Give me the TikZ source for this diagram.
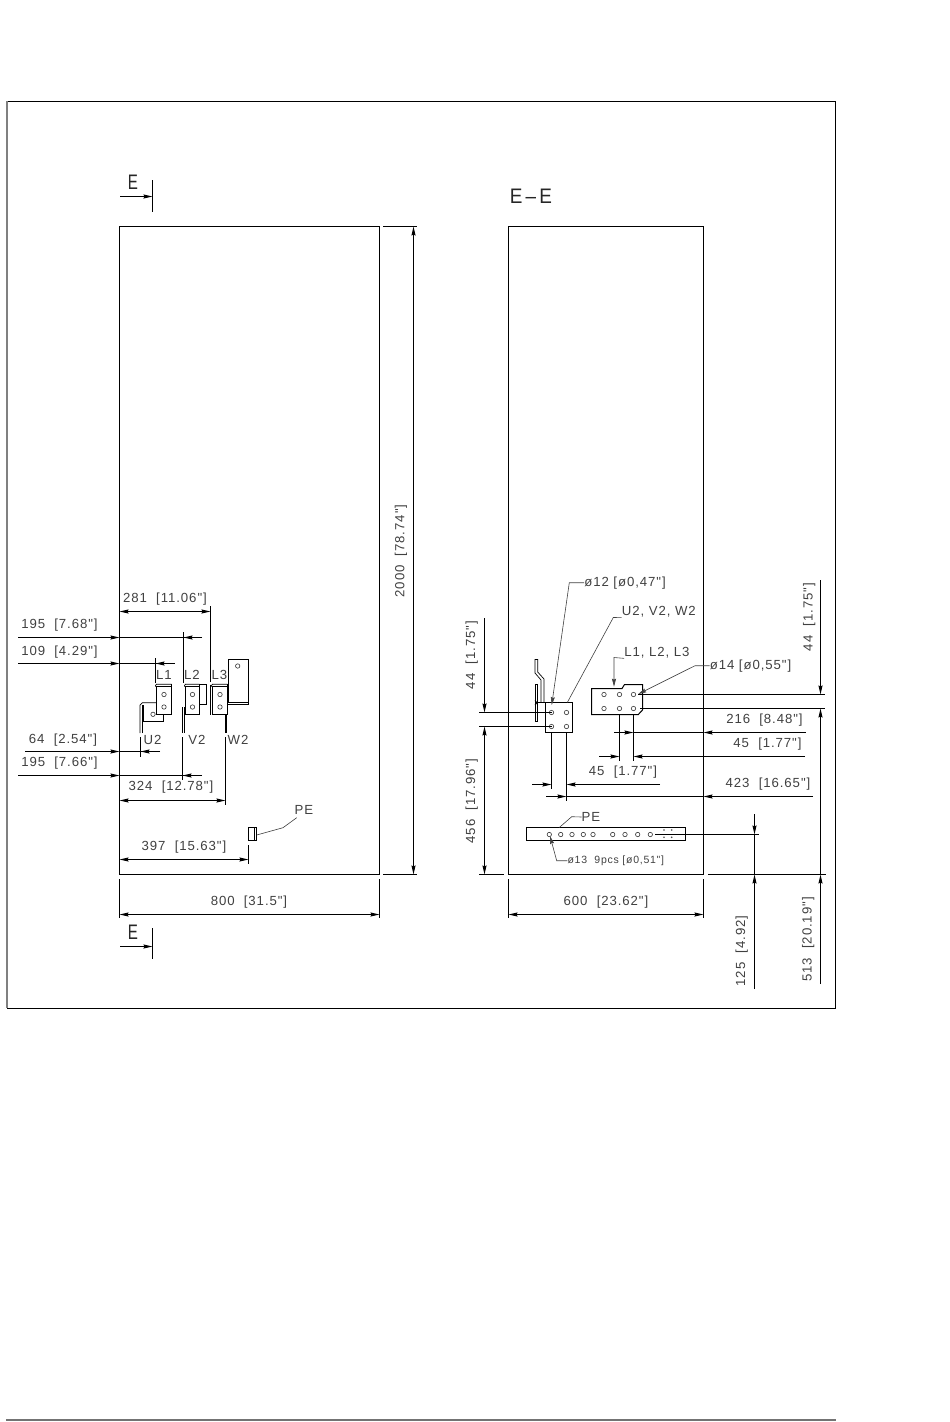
\documentclass[tikz,border=0pt]{standalone}
\usepackage{fontspec}
\setmainfont{Liberation Sans}
\newfontfamily\cadfont[LetterSpace=7]{Liberation Sans}
\usetikzlibrary{arrows.meta}
\tikzset{
  part/.style={line width=1pt},
  thinpart/.style={line width=.7pt},
  dimline/.style={line width=1pt},
  leader/.style={line width=.6pt,black!75},
  tipin/.style={-{Stealth[length=9pt,width=4pt,inset=1pt]}},
  tipboth/.style={{Stealth[length=9pt,width=4pt,inset=1pt]}-{Stealth[length=9pt,width=4pt,inset=1pt]}},
  tipsmall/.style={-{Stealth[length=8pt,width=4pt,inset=1pt]}},
  dimtext/.style={inner sep=0pt,text=black!75,font=\fontsize{13.2}{15}\cadfont},
  smalltext/.style={inner sep=0pt,text=black!75,font=\fontsize{10.5}{12}\cadfont},
  bigtext/.style={inner sep=0pt,text=black!85,xscale=.72,transform shape,font=\fontsize{21}{24}\selectfont},
  hole/.style={line width=.6pt,black!80}
}
\begin{document}
\begin{tikzpicture}[x=1pt,y=-1pt]
\useasboundingbox (0,0) rectangle (950,1422);

\draw[line width=1pt] (7,101.5) rectangle (835.5,1008.5);
\draw[line width=2pt,black!50] (7,101)--(7,1008);
\draw[line width=2pt,black!55] (6,1419.5)--(836,1419.5);

\draw[part] (119.5,226.5) rectangle (379.5,874.5);
\draw[part] (508.5,226.5) rectangle (703.5,874.5);

% section marks
\node[bigtext] (sectop) at (133,182) {E};
\node[bigtext] (secbot) at (133,932.5) {E};
\node[bigtext,xscale=1.25] (sectitle) at (531,196) {E\,--\,E};
\draw[dimline] (152.5,180)--(152.5,212);
\draw[dimline] (152.5,928)--(152.5,959);
\draw[dimline,tipin] (120,196.5)--(152.5,196.5);
\draw[dimline,tipin] (120,946.5)--(152.5,946.5);

% left view, dimensions
\draw[dimline] (210.5,606)--(210.5,682);
\draw[dimline] (183.5,632)--(183.5,683);
\draw[dimline] (155.5,658)--(155.5,683);
\draw[dimline] (140.5,737)--(140.5,757);
\draw[dimline] (182.5,737)--(182.5,780);
\draw[dimline] (225.5,737)--(225.5,805);
\draw[dimline] (248.5,845)--(248.5,864);
\draw[dimline] (119.5,879)--(119.5,918);
\draw[dimline] (379.5,879)--(379.5,918);
\draw[dimline] (383,226.5)--(417,226.5);
\draw[dimline] (383,874.5)--(417,874.5);

\draw[dimline,tipboth] (119.5,611.5)--(210.5,611.5);
\draw[dimline,tipboth] (119.5,800.5)--(225.5,800.5);
\draw[dimline,tipboth] (119.5,859.5)--(248.5,859.5);
\draw[dimline,tipboth] (119.5,914.5)--(379.5,914.5);
\draw[dimline,tipboth] (413.5,226.5)--(413.5,874.5);

\foreach \yy/\xa/\xb/\xc in {637.5/18/183.5/202,663.5/18/155.5/174.5,751.5/25/140.5/160,775.5/18/182.5/202}{
  \draw[dimline,tipin] (\xa,\yy)--(119.5,\yy);
  \draw[dimline] (119.5,\yy)--(\xc,\yy);
  \draw[dimline,tipin] (\xc,\yy)--(\xb,\yy);
}

\node[dimtext] (dima) at (165,599) {281\ \ [11.06"]};
\node[dimtext] (dimb) at (59.5,625) {195\ \ [7.68"]};
\node[dimtext] (dimc) at (59.5,652) {109\ \ [4.29"]};
\node[dimtext] (dimd) at (63,740) {64\ \ [2.54"]};
\node[dimtext] (dime) at (59.5,763) {195\ \ [7.66"]};
\node[dimtext] (dimf) at (171,787) {324\ \ [12.78"]};
\node[dimtext] (dimg) at (184,847) {397\ \ [15.63"]};
\node[dimtext] (dimh) at (249,902) {800\ \ [31.5"]};
\node[dimtext,rotate=90] (dimi) at (401,551) {2000\ \ [78.74"]};

\node[dimtext] (lone) at (164,675) {L1};
\node[dimtext] (ltwo) at (192,675) {L2};
\node[dimtext] (lthree) at (219.5,675) {L3};
\node[dimtext] (utwo) at (152.5,740) {U2};
\node[dimtext] (vtwo) at (197,740) {V2};
\node[dimtext] (wtwo) at (238,740) {W2};
\node[dimtext] (peleft) at (304,810) {PE};

% left view, terminals
\foreach \xa/\xb in {156.5/171.5,185.5/199.5,212.5/227.5}{
  \draw[part] (\xa,686.5) rectangle (\xb,714.5);
  \draw[thinpart] (\xa-1,686.5)--(\xa-1,685.5)--(\xa,684.2)--(\xb,684.2);
  \draw[thinpart] (\xb,684.2)--(\xb,686.5);
  \draw[hole] ({(\xa+\xb)/2},694.5) circle (2.2);
  \draw[hole] ({(\xa+\xb)/2},707) circle (2.2);
}
\draw[thinpart] (140,733)--(140,705)--(142.5,702.7)--(156.5,702.7);
\draw[thinpart] (142.7,733)--(142.7,705);
\draw[part] (143.5,705)--(143.5,721.5)--(163.5,721.5)--(163.5,714.5);
\draw[hole] (153,714.3) circle (2.2);
\draw[part] (199.5,684.5)--(206.5,684.5)--(206.5,704.5)--(199.5,704.5);
\draw[thinpart] (182.3,707)--(182.3,733);
\draw[thinpart] (184.3,707)--(184.3,733);
\draw[thinpart] (210.7,684.5)--(210.7,714.5);
\draw[line width=1.6pt] (226,714.5)--(226,733);
\draw[part] (228.5,702.5)--(228.5,659.5)--(248,659.5)--(248,704.5)--(227.3,704.5);
\draw[thinpart] (228.5,702.5)--(248,702.5);
\draw[hole] (237.7,666) circle (2.2);
\draw[part] (248.5,827.5) rectangle (256.5,840.5);
\draw[thinpart] (254.5,827.5)--(254.5,840.5);
\draw[leader] (256.7,835)--(283,827.7)--(296.7,817.7);

% right view, parts
\draw[part] (545.5,702.5) rectangle (572.5,732.5);
\foreach \xx in {551.5,566.5}
  \foreach \yy in {712.5,726.5}
    \draw[hole] (\xx,\yy) circle (2.2);
\draw[part] (591.5,688.5)--(622,688.5)--(624.5,684.5)--(642.5,684.5)--(642.5,710)--(638.3,714.5)--(591.5,714.5)--cycle;
\foreach \xx in {604,619.5,633.5}
  \foreach \yy in {694.5,708.5}
    \draw[hole] (\xx,\yy) circle (2.2);
\draw[thinpart] (535,673)--(535,659.5)--(537.7,659.5)--(537.7,672)--(544,679)--(544,702.5);
\draw[thinpart] (535,673)--(541,680)--(541,702.5);
\draw[thinpart] (535,684) rectangle (537.7,721.7);
\draw[thinpart] (535,705)--(537.7,700.5) (535,700.5)--(537.7,705);
\draw[thinpart] (537.7,702.5)--(545.5,702.5);
\draw[part] (526.5,827.5) rectangle (685.5,840.5);
\foreach \xx in {549.3,560.7,572,583.3,593,612.7,625,637.7,650.3}
  \draw[hole] (\xx,834.5) circle (2.2);
\foreach \xx in {664,671.7}
  \foreach \yy in {830,837.3}
    \fill[black!70] (\xx,\yy) circle (.9);

% right view, dimensions
\draw[dimline] (479,712.5)--(551.5,712.5);
\draw[dimline] (479,726.5)--(551.5,726.5);
\draw[dimline] (638.3,694.5)--(825,694.5);
\draw[dimline] (640,708.5)--(825,708.5);
\draw[dimline] (655,834.5)--(759,834.5);
\draw[dimline] (479,874.5)--(504,874.5);
\draw[dimline] (708,874.5)--(825.7,874.5);
\draw[dimline] (551.5,732.5)--(551.5,789);
\draw[dimline] (566.5,732.5)--(566.5,800.7);
\draw[dimline] (619.5,714.5)--(619.5,760.7);
\draw[dimline] (633.5,714.5)--(633.5,760.7);
\draw[dimline] (508.5,879)--(508.5,918);
\draw[dimline] (703.5,879)--(703.5,918);

\draw[dimline,tipboth] (508.5,914.5)--(703.5,914.5);

\draw[dimline,tipin] (484.5,618)--(484.5,712.5);
\draw[dimline,tipboth] (484.5,726.5)--(484.5,874.5);
\draw[dimline,tipin] (820.5,580)--(820.5,694.5);
\draw[dimline,tipin] (820.5,874.5)--(820.5,708.5);
\draw[dimline,tipin] (820.5,984)--(820.5,874.5);
\draw[dimline,tipin] (754.5,814)--(754.5,834.5);
\draw[dimline] (754.5,834.5)--(754.5,874.5);
\draw[dimline,tipin] (754.5,989)--(754.5,874.5);

\draw[dimline,tipin] (532.3,784.5)--(551.5,784.5);
\draw[dimline,tipin] (660,784.5)--(566.5,784.5);
\draw[dimline,tipin] (546,796.5)--(566.5,796.5);
\draw[dimline,tipin] (813,796.5)--(703.5,796.5);
\draw[dimline] (703.5,796.5)--(566.5,796.5);
\draw[dimline,tipin] (614,732.5)--(633.5,732.5);
\draw[dimline,tipin] (805.7,732.5)--(703.5,732.5);
\draw[dimline] (703.5,732.5)--(633.5,732.5);
\draw[dimline,tipin] (599.3,756.5)--(619.5,756.5);
\draw[dimline,tipin] (805,756.5)--(633.5,756.5);

\node[dimtext] (dimj) at (764.5,720) {216\ \ [8.48"]};
\node[dimtext] (dimk) at (767.5,744) {45\ \ [1.77"]};
\node[dimtext] (diml) at (768,784) {423\ \ [16.65"]};
\node[dimtext] (dimm) at (623,771.7) {45\ \ [1.77"]};
\node[dimtext] (dimn) at (606,901.7) {600\ \ [23.62"]};
\node[dimtext,rotate=90] (dimo) at (471.7,655) {44\ \ [1.75"]};
\node[dimtext,rotate=90] (dimp) at (471.7,801) {456\ \ [17.96"]};
\node[dimtext,rotate=90] (dimq) at (809.3,617) {44\ \ [1.75"]};
\node[dimtext,rotate=90] (dimr) at (741.7,951) {125\ \ [4.92]};
\node[dimtext,rotate=90] (dims) at (808.3,939.5) {513\ \ [20.19"]};

% right view, leaders
\node[dimtext] (holea) at (625,582.7) {ø12\ [ø0,47"]};
\node[dimtext] (uvw) at (658.8,611.7) {U2,\ V2,\ W2};
\node[dimtext] (lll) at (657,652.7) {L1,\ L2,\ L3};
\node[dimtext] (holeb) at (750.5,665.7) {ø14\ [ø0,55"]};
\node[dimtext] (peright) at (591,817) {PE};
\node[smalltext] (holec) at (615.8,860.7) {ø13\ \ 9pcs\ [ø0,51"]};

\draw[leader,tipsmall] (holea.west)--(569.3,582.7)--(551.7,705);
\draw[leader] (uvw.south west)--(613.3,617.5)--(567.3,702.5);
\draw[leader,tipsmall] (lll.south west)--(614,657.5)--(614,686.7);
\draw[leader,tipsmall] (holeb.west)--(695,665.7)--(638.3,694);
\draw[leader] (peright.west)--(571.7,816.7)--(559.3,827.5);
\draw[leader,tipsmall] (holec.west)--(556.7,860.7)--(550,836);
\end{tikzpicture}
\end{document}
